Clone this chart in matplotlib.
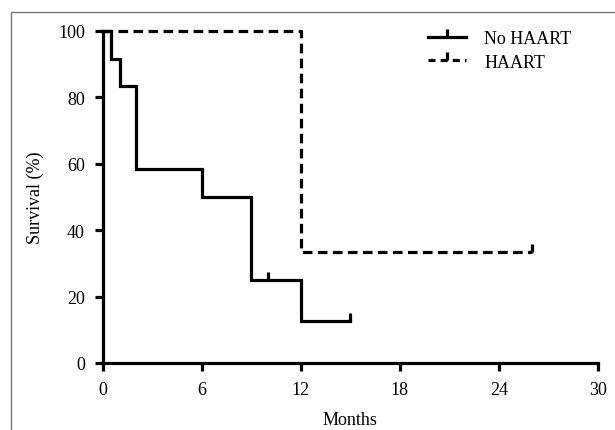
import matplotlib
matplotlib.use("Agg")
import matplotlib.pyplot as plt
import matplotlib.patches as patches
from matplotlib.lines import Line2D

plt.rcParams['font.family'] = ['Liberation Serif', 'DejaVu Serif']

# ---------------- DATA ----------------
no_haart_t = [0, 0.5, 1, 2, 6, 9, 12, 15]
no_haart_s = [100, 91.7, 83.3, 58.3, 50, 25, 12.5, 12.5]
no_haart_cens_t = [10, 15]
no_haart_cens_s = [25, 12.5]

haart_t = [0, 12, 26]
haart_s = [100, 33.3, 33.3]
haart_cens_t = [26]
haart_cens_s = [33.3]

x_ticks = [0, 6, 12, 18, 24, 30]
y_ticks = [0, 20, 40, 60, 80, 100]

# ---------------- FIGURE ----------------
fig = plt.figure(figsize=(6.15, 4.31), dpi=100)
ax = fig.add_axes([0.1675, 0.1555, 0.8045, 0.7703])

# outer frame (only top and left edges visible)
frame = patches.Rectangle((11 / 615, -0.2), 1.2, 1 - 13 / 431 + 0.2,
                          transform=fig.transFigure, fill=False,
                          edgecolor='#777777', linewidth=1.0, clip_on=False)
fig.patches.append(frame)

lw = 2.3
fs = 13
dash = (0, (3, 1.7))

ax.step(no_haart_t, no_haart_s, where='post', color='black', lw=lw,
        clip_on=False, solid_joinstyle='miter')
ax.plot(no_haart_cens_t, no_haart_cens_s, ls='none', marker=2,
        markersize=6, mew=lw, color='black', clip_on=False)

ax.step(haart_t, haart_s, where='post', color='black', lw=lw,
        ls=dash, clip_on=False)
ax.plot(haart_cens_t, haart_cens_s, ls='none', marker=2,
        markersize=6, mew=lw, color='black', clip_on=False)

ax.set_xlim(0, 30)
ax.set_ylim(0, 100)
ax.set_xticks(x_ticks)
ax.set_yticks(y_ticks)
ax.tick_params(direction='out', length=6, width=lw, labelsize=fs)
ax.tick_params(axis='x', pad=7)
ax.tick_params(axis='y', pad=7)

for side in ['top', 'right']:
    ax.spines[side].set_visible(False)
for side in ['left', 'bottom']:
    ax.spines[side].set_linewidth(lw)

ax.set_xlabel('Months', fontsize=fs, labelpad=9)
ax.set_ylabel('Survival (%)', fontsize=fs, labelpad=10)

# ---------------- LEGEND ----------------
h1 = Line2D([], [], color='black', lw=lw, marker=2, markersize=6, mew=lw)
h2 = Line2D([], [], color='black', lw=lw, ls=(0, (2.2, 1.6)), marker=2,
            markersize=6, mew=lw)
leg = ax.legend([h1, h2], ['No HAART', 'HAART'], loc='upper left',
                bbox_to_anchor=(0.625, 1.051), frameon=False, fontsize=fs,
                handlelength=2.1, handletextpad=1.0, labelspacing=0.35,
                numpoints=1)

fig.savefig('out.png', dpi=100)
